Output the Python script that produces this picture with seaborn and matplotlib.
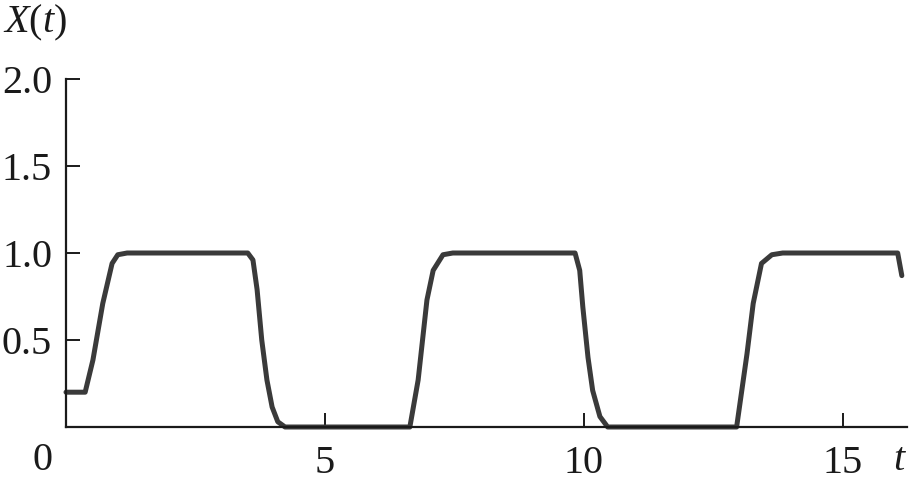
import pandas as pd
import matplotlib
matplotlib.use("Agg")
import matplotlib.pyplot as plt
import seaborn as sns

sns.set_style("white")

plt.rcParams["font.family"] = ["Liberation Serif", "DejaVu Serif"]
plt.rcParams["mathtext.fontset"] = "custom"
plt.rcParams["mathtext.rm"] = "Liberation Serif"
plt.rcParams["mathtext.it"] = "Liberation Serif:italic"

# --------------------------------------------------
# Data
# --------------------------------------------------

t_vals = [0, 0.37, 0.52, 0.71, 0.89, 1.0, 1.18,
          3.51, 3.61, 3.69, 3.78, 3.88, 3.98, 4.09, 4.23,
          6.64, 6.8, 6.97, 7.09, 7.28, 7.47,
          9.83, 9.92, 9.98, 10.08, 10.17, 10.31, 10.46,
          12.95, 13.15, 13.27, 13.43, 13.63, 13.84,
          16.06, 16.14]
x_vals = [0.2, 0.2, 0.385, 0.71, 0.94, 0.99, 1.0,
          1.0, 0.96, 0.79, 0.5, 0.27, 0.115, 0.03, 0.0,
          0.0, 0.27, 0.73, 0.9, 0.99, 1.0,
          1.0, 0.9, 0.69, 0.4, 0.21, 0.06, 0.0,
          0.0, 0.42, 0.71, 0.94, 0.99, 1.0,
          1.0, 0.87]

x_ticks = [5, 10, 15]
y_ticks = [0.5, 1.0, 1.5, 2.0]
y_ticklabels = ["0.5", "1.0", "1.5", "2.0"]

df = pd.DataFrame({"t": t_vals, "X": x_vals})

# --------------------------------------------------
# Plot
# --------------------------------------------------

fig = plt.figure(figsize=(9.1, 4.88), dpi=100)
ax = fig.add_axes([66 / 910, 1 - 427 / 488, 841 / 910, 348 / 488])

sns.lineplot(data=df, x="t", y="X", ax=ax, estimator=None, sort=False,
             color="#3a3a3a", linewidth=3.6, clip_on=False,
             solid_joinstyle="round", solid_capstyle="round")

ax.set_xlim(0, 16.24)
ax.set_ylim(0, 2.0)

ax.set_xticks(x_ticks)
ax.set_xticklabels([str(v) for v in x_ticks])
ax.set_yticks(y_ticks)
ax.set_yticklabels(y_ticklabels)

ax.tick_params(direction="in", length=10, width=1.4, labelsize=29,
               colors="#1a1a1a", bottom=True, left=True)
ax.tick_params(axis="x", pad=13)
ax.tick_params(axis="y", pad=10)

for side in ["top", "right"]:
    ax.spines[side].set_visible(False)
for side in ["left", "bottom"]:
    ax.spines[side].set_linewidth(1.6)
    ax.spines[side].set_color("#1a1a1a")

ax.set_xlabel("")
ax.set_ylabel("")

fig.text(42 / 910, 1 - 461 / 488, "0", fontsize=29, ha="center", va="center",
         color="#1a1a1a")
fig.text(899 / 910, 1 - 461 / 488, "t", fontsize=29, ha="center", va="center",
         style="italic", color="#1a1a1a")
fig.text(3 / 910, 1 - 3 / 488, r"$X(t)$", fontsize=29, ha="left", va="top",
         color="#1a1a1a")

fig.savefig("out.png", dpi=100)
plt.close()
